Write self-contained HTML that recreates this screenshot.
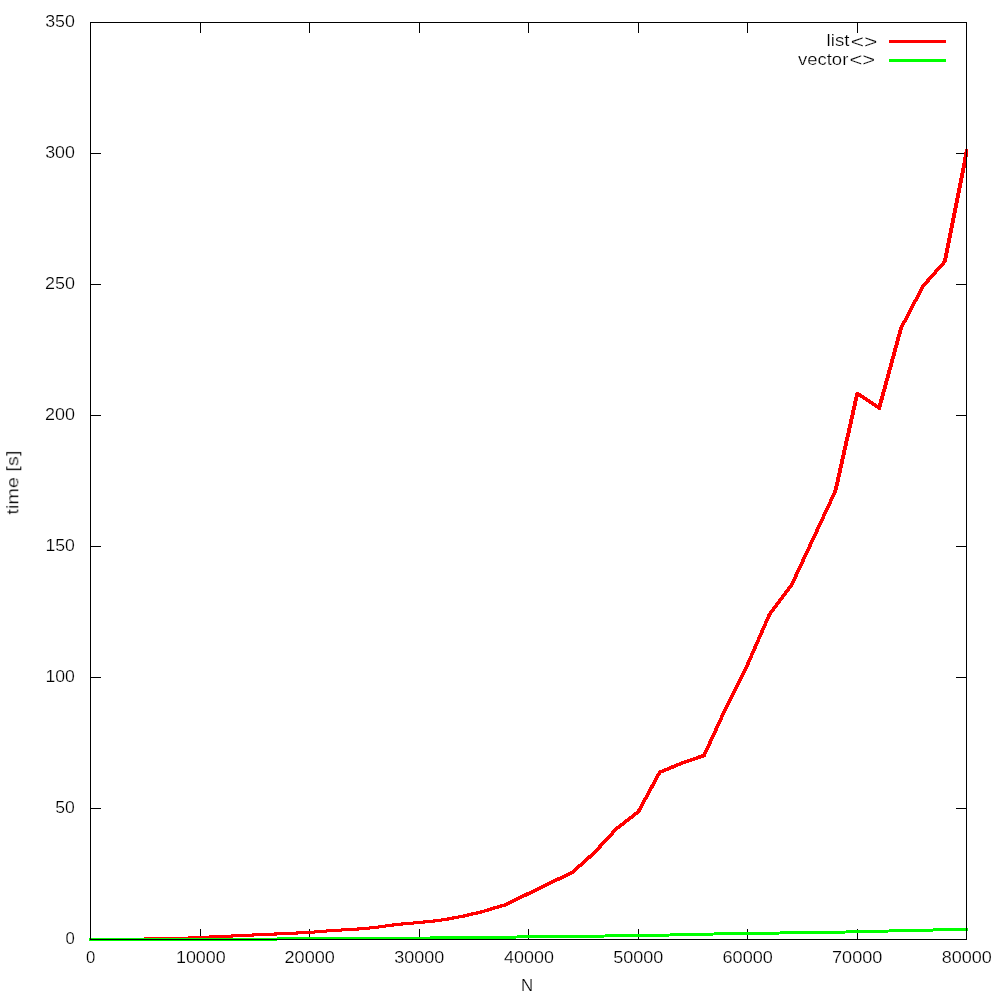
<!DOCTYPE html>
<html lang="en"><head><meta charset="utf-8"><title>list vs vector</title>
<style>
html,body{margin:0;padding:0;background:#fff;}
svg{display:block;}
text{font-family:"Liberation Sans",sans-serif;font-size:16.6px;fill:#000;stroke:#fff;stroke-width:0.22px;}
</style></head><body>
<svg width="1000" height="1000" viewBox="0 0 1000 1000">
<rect x="0" y="0" width="1000" height="1000" fill="#fff"/>
<g shape-rendering="crispEdges" stroke="#000" stroke-width="1" fill="none">
<line x1="200.5" y1="939.5" x2="200.5" y2="928.9"/><line x1="200.5" y1="22.5" x2="200.5" y2="32.5"/>
<line x1="309.5" y1="939.5" x2="309.5" y2="928.9"/><line x1="309.5" y1="22.5" x2="309.5" y2="32.5"/>
<line x1="419.5" y1="939.5" x2="419.5" y2="928.9"/><line x1="419.5" y1="22.5" x2="419.5" y2="32.5"/>
<line x1="528.5" y1="939.5" x2="528.5" y2="928.9"/><line x1="528.5" y1="22.5" x2="528.5" y2="32.5"/>
<line x1="638.5" y1="939.5" x2="638.5" y2="928.9"/><line x1="638.5" y1="22.5" x2="638.5" y2="32.5"/>
<line x1="747.5" y1="939.5" x2="747.5" y2="928.9"/><line x1="747.5" y1="22.5" x2="747.5" y2="32.5"/>
<line x1="857.5" y1="939.5" x2="857.5" y2="928.9"/><line x1="857.5" y1="22.5" x2="857.5" y2="32.5"/>
<line x1="90.5" y1="808.5" x2="100.5" y2="808.5"/><line x1="966.5" y1="808.5" x2="955.9" y2="808.5"/>
<line x1="90.5" y1="677.5" x2="100.5" y2="677.5"/><line x1="966.5" y1="677.5" x2="955.9" y2="677.5"/>
<line x1="90.5" y1="546.5" x2="100.5" y2="546.5"/><line x1="966.5" y1="546.5" x2="955.9" y2="546.5"/>
<line x1="90.5" y1="415.5" x2="100.5" y2="415.5"/><line x1="966.5" y1="415.5" x2="955.9" y2="415.5"/>
<line x1="90.5" y1="284.5" x2="100.5" y2="284.5"/><line x1="966.5" y1="284.5" x2="955.9" y2="284.5"/>
<line x1="90.5" y1="153.5" x2="100.5" y2="153.5"/><line x1="966.5" y1="153.5" x2="955.9" y2="153.5"/>
</g>
<clipPath id="c"><rect x="89" y="0" width="879" height="1000"/></clipPath>
<g shape-rendering="crispEdges" fill="none" stroke-linejoin="round" stroke-linecap="butt" clip-path="url(#c)">
<polyline points="91.0,939.5 144.3,939.0 188.0,938.0" stroke="#ff0000" stroke-width="3.0" stroke-linecap="butt"/>
<polyline points="188.0,938.0 210.8,937.0 232.4,936.0 253.3,935.0 275.6,934.0 297.2,933.0 314.9,932.0 326.8,931.0 341.5,930.0 358.3,929.0 369.5,928.0" stroke="#ff0000" stroke-width="3.1" stroke-linecap="butt"/>
<polyline points="369.5,928.0 378.6,927.0 385.6,926.0 393.3,925.0 402.4,924.0" stroke="#ff0000" stroke-width="3.2" stroke-linecap="butt"/>
<polyline points="402.4,924.0 413.6,923.0 424.1,922.0" stroke="#ff0000" stroke-width="3.1" stroke-linecap="butt"/>
<polyline points="424.1,922.0 433.9,921.0 442.3,920.0" stroke="#ff0000" stroke-width="3.2" stroke-linecap="butt"/>
<polyline points="442.3,920.0 453.2,918.0 464.0,916.0" stroke="#ff0000" stroke-width="3.3" stroke-linecap="butt"/>
<polyline points="464.0,916.0 472.4,914.0" stroke="#ff0000" stroke-width="3.4" stroke-linecap="butt"/>
<polyline points="472.4,914.0 481.2,912.0" stroke="#ff0000" stroke-width="3.3" stroke-linecap="butt"/>
<polyline points="481.2,912.0 488.0,910.0" stroke="#ff0000" stroke-width="3.4" stroke-linecap="butt"/>
<polyline points="488.0,910.0 494.4,908.0 500.8,906.0" stroke="#ff0000" stroke-width="3.5" stroke-linecap="butt"/>
<polyline points="500.8,906.0 504.0,905.3" stroke="#ff0000" stroke-width="3.3" stroke-linecap="butt"/>
<polyline points="504.3,905.3 528.8,893.4 550.7,882.8 572.6,872.2 594.5,852.5 616.4,828.8 638.3,811.8 659.7,772.3 682.1,763.0" stroke="#ff0000" stroke-width="3.6" stroke-linecap="round"/>
<polyline points="681.8,763.0 703.7,755.6" stroke="#ff0000" stroke-width="3.5" stroke-linecap="butt"/>
<polyline points="704.0,755.6 725.9,708.0 747.8,664.0 769.7,614.0 791.6,585.0 813.5,538.0 835.4,491.0" stroke="#ff0000" stroke-width="3.6" stroke-linecap="round"/>
<polyline points="835.4,491.0 857.3,393.5" stroke="#ff0000" stroke-width="3.9" stroke-linecap="round"/>
<polyline points="857.3,393.5 879.2,408.0" stroke="#ff0000" stroke-width="3.6" stroke-linecap="round"/>
<polyline points="879.2,408.0 901.1,328.0" stroke="#ff0000" stroke-width="3.9" stroke-linecap="round"/>
<polyline points="901.1,328.0 923.0,286.2 944.9,261.4" stroke="#ff0000" stroke-width="3.6" stroke-linecap="round"/>
<polyline points="944.9,261.4 966.8,151.0 967.2,149.0" stroke="#ff0000" stroke-width="3.9" stroke-linecap="butt"/>
<polyline points="89.0,939.5 276.8,939.0 429.6,938.0 516.8,937.0 604.9,936.0 669.9,935.0 713.6,934.0 779.7,933.0 845.9,932.0 888.9,931.0 933.5,930.0 968.0,929.3" stroke="#00ff00" stroke-width="3"/>
<line x1="889" y1="41.5" x2="946" y2="41.5" stroke="#ff0000" stroke-width="3"/>
<line x1="889" y1="60.5" x2="946" y2="60.5" stroke="#00ff00" stroke-width="3"/>
</g>
<rect x="90.5" y="22.5" width="876.0" height="917.0" shape-rendering="crispEdges" stroke="#000" stroke-width="1" fill="none"/>
<g opacity="0.999">
<text x="65.54" y="944.0" textLength="9.31" lengthAdjust="spacingAndGlyphs">0</text>
<text x="55.31" y="813.0" textLength="19.58" lengthAdjust="spacingAndGlyphs">50</text>
<text x="45.45" y="682.0" textLength="29.44" lengthAdjust="spacingAndGlyphs">100</text>
<text x="45.45" y="551.0" textLength="29.44" lengthAdjust="spacingAndGlyphs">150</text>
<text x="44.93" y="420.0" textLength="29.97" lengthAdjust="spacingAndGlyphs">200</text>
<text x="44.93" y="289.0" textLength="29.97" lengthAdjust="spacingAndGlyphs">250</text>
<text x="45.16" y="158.0" textLength="29.74" lengthAdjust="spacingAndGlyphs">300</text>
<text x="45.16" y="27.0" textLength="29.74" lengthAdjust="spacingAndGlyphs">350</text>
<text x="86.14" y="962.7" textLength="9.31" lengthAdjust="spacingAndGlyphs">0</text>
<text x="175.95" y="962.7" textLength="49.83" lengthAdjust="spacingAndGlyphs">10000</text>
<text x="284.53" y="962.7" textLength="50.34" lengthAdjust="spacingAndGlyphs">20000</text>
<text x="394.25" y="962.7" textLength="50.11" lengthAdjust="spacingAndGlyphs">30000</text>
<text x="504.03" y="962.7" textLength="49.84" lengthAdjust="spacingAndGlyphs">40000</text>
<text x="613.22" y="962.7" textLength="50.15" lengthAdjust="spacingAndGlyphs">50000</text>
<text x="722.52" y="962.7" textLength="50.35" lengthAdjust="spacingAndGlyphs">60000</text>
<text x="832.01" y="962.7" textLength="50.36" lengthAdjust="spacingAndGlyphs">70000</text>
<text x="941.65" y="962.7" textLength="50.21" lengthAdjust="spacingAndGlyphs">80000</text>
<text x="520.92" y="990.7" textLength="12.15" lengthAdjust="spacingAndGlyphs">N</text>
<text x="-31.40" y="0" textLength="63.91" lengthAdjust="spacingAndGlyphs" transform="translate(18.3,483.1) rotate(-90)">time [s]</text>
<text><tspan x="826.64" y="46" textLength="22.79" lengthAdjust="spacingAndGlyphs">list</tspan><tspan x="850.68" y="47.6" textLength="26.64" lengthAdjust="spacingAndGlyphs" font-size="18.0">&lt;&gt;</tspan></text>
<text><tspan x="797.94" y="64.5" textLength="50.37" lengthAdjust="spacingAndGlyphs">vector</tspan><tspan x="849.42" y="66.1" textLength="25.66" lengthAdjust="spacingAndGlyphs" font-size="18.0">&lt;&gt;</tspan></text>
</g></svg></body></html>
